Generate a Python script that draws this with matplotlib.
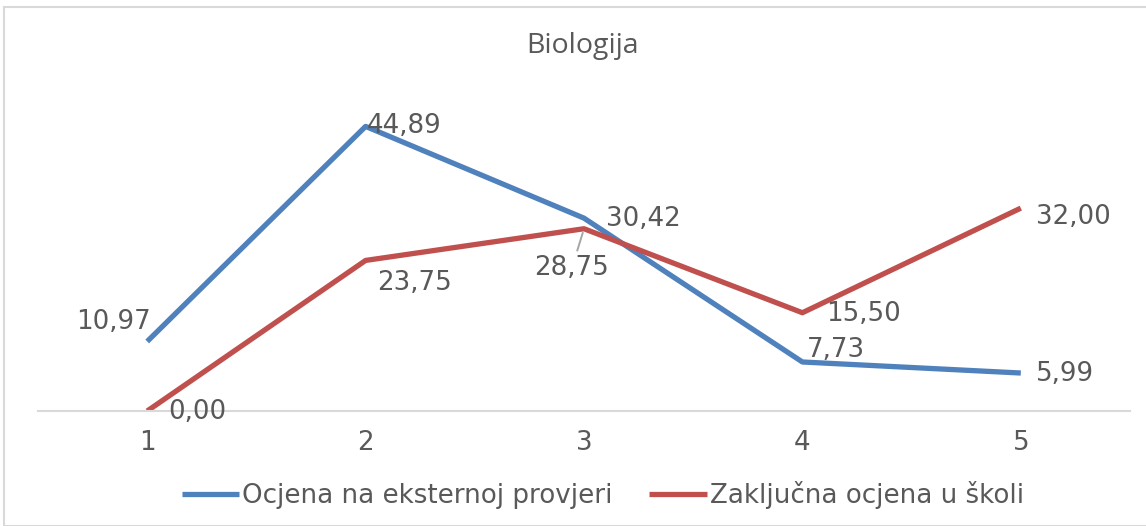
import matplotlib
matplotlib.use('Agg')
import matplotlib.pyplot as plt
from matplotlib.patches import Rectangle

# data
ocjene = [1, 2, 3, 4, 5]
eksterna = [10.97, 44.89, 30.42, 7.73, 5.99]
skolska = [0.00, 23.75, 28.75, 15.50, 32.00]
naziv_eksterna = 'Ocjena na eksternoj provjeri'
naziv_skolska = 'Zaključna ocjena u školi'

plava = '#4F81BD'
crvena = '#C0504D'
siva_txt = '#595959'
vel = 18.8

plt.rcParams['font.family'] = ['DejaVu Sans']

fig = plt.figure(figsize=(11.46, 5.26), dpi=100)
ax = fig.add_axes([38 / 1146, 1 - 411 / 526, 1092 / 1146, 317 / 526])

ax.plot(ocjene, eksterna, color=plava, lw=3.8, solid_capstyle='butt', label=naziv_eksterna)
ax.plot(ocjene, skolska, color=crvena, lw=3.8, solid_capstyle='butt', label=naziv_skolska)

ax.set_xlim(0.5, 5.5)
ax.set_ylim(0, 50)
ax.set_xticks(ocjene)
ax.set_yticks([])
for s in ['top', 'left', 'right']:
    ax.spines[s].set_visible(False)
ax.spines['bottom'].set_color('#D9D9D9')
ax.spines['bottom'].set_linewidth(1.5)
ax.tick_params(axis='x', length=0, pad=14, labelsize=vel, labelcolor=siva_txt)

def fmt(v):
    return f'{v:.2f}'.replace('.', ',')

# pomaci natpisa u pikselima
pomak_eks = [(-34, 19), (39, 0), (59, -1), (34, 12), (44, -1)]
pomak_sko = [(50, -1), (49, -23), (-12, -39), (61, -1), (53, -9)]

for x, y, (dx, dy) in zip(ocjene, eksterna, pomak_eks):
    ax.annotate(fmt(y), (x, y), xytext=(dx, dy), textcoords='offset pixels',
                ha='center', va='center', fontsize=vel, color=siva_txt)
for i, (x, y, (dx, dy)) in enumerate(zip(ocjene, skolska, pomak_sko)):
    if i == 2:
        ax.annotate(fmt(y), (x, y), xytext=(dx, dy), textcoords='offset pixels',
                    ha='center', va='center', fontsize=vel, color=siva_txt,
                    arrowprops=dict(arrowstyle='-', color='#A6A6A6', lw=1.4,
                                    shrinkA=1, shrinkB=3))
    else:
        ax.annotate(fmt(y), (x, y), xytext=(dx, dy), textcoords='offset pixels',
                    ha='center', va='center', fontsize=vel, color=siva_txt)

fig.text(583 / 1146, 1 - 46 / 526, 'Biologija', ha='center', va='center',
         fontsize=20.5, color=siva_txt, family=['Open Sans', 'DejaVu Sans'])

fig.legend(loc='center', bbox_to_anchor=(603 / 1146, 1 - 495 / 526), ncol=2, frameon=False,
           fontsize=vel, labelcolor=siva_txt, handlelength=2.2, handletextpad=0.12,
           columnspacing=1.4)

fig.patches.append(Rectangle((4 / 1146, 0), 1.2, 1 - 7 / 526, transform=fig.transFigure,
                             fill=False, edgecolor='#D9D9D9', lw=1.5))

fig.savefig('out.png', dpi=100)
